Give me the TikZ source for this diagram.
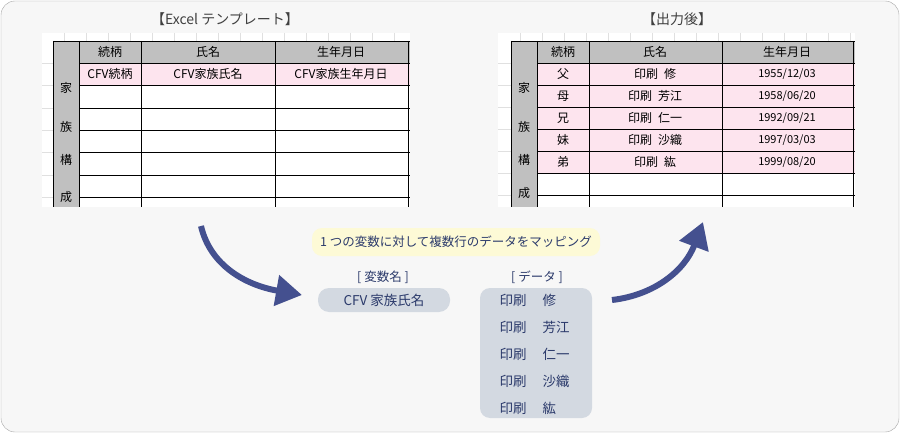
\documentclass[tikz,border=0pt]{standalone}
\usepackage{fontspec}
\setmainfont{Noto Sans CJK JP}
\usetikzlibrary{arrows.meta}
\definecolor{navy}{HTML}{2B3A6B}
\definecolor{arr}{HTML}{44508F}
\definecolor{hdr}{HTML}{C0C0C0}
\definecolor{pinkc}{HTML}{FDE4EE}
\definecolor{pill}{HTML}{D3D9E1}
\definecolor{note}{HTML}{FDFAD6}
\begin{document}
\begin{tikzpicture}[x=1pt,y=-1pt,
  cell/.style={font=\fontsize{12}{13}\selectfont},
  lbl/.style={font=\fontsize{12.5}{13}\selectfont, text=navy},
  bigarrow/.style={draw=arr, line width=6pt, -{Triangle[width=30pt,length=26pt]}}]
\useasboundingbox (0,0) rectangle (900,433);
\draw[draw=gray!70, fill=black!3, rounded corners=14pt] (1,1) rectangle (899,432);
% titles
\node[font=\fontsize{14}{15}\selectfont, text=black!75] (t1) at (225,19) {【Excel テンプレート】};
\node[font=\fontsize{14}{15}\selectfont, text=black!75] (t2) at (677,19) {【出力後】};
% left table
\fill[white] (42,33) rectangle (410,207);
\foreach \x in {64,86,108,130,152,174,196,218,240,262,284,306,328,350,372,394} \draw[black!12] (\x,33) -- (\x,41);
\foreach \y in {63,85,108,130,152,175,197} \draw[black!12] (42,\y) -- (53,\y);
\fill[hdr] (53,41) rectangle (79,207);
\fill[hdr] (79,41) rectangle (410,63);
\fill[pinkc] (79,63) rectangle (410,85);
\foreach \y in {41,63,85,108,130,152,175,197} \draw[black] (79,\y) -- (410,\y);
\draw (53,41) -- (79,41);
\foreach \x in {53,79,141,275,408} \draw[black] (\x,41) -- (\x,207);
\node[cell] (lh1) at (110,52) {続柄};
\node[cell] (lh2) at (208,52) {氏名};
\node[cell] (lh3) at (341,52) {生年月日};
\node[cell] (lv1) at (110,74) {CFV続柄};
\node[cell] (lv2) at (208,74) {CFV家族氏名};
\node[cell] (lv3) at (341,74) {CFV家族生年月日};
\node[cell] (ls1) at (66,88) {家};
\node[cell] (ls2) at (66,127) {族};
\node[cell] (ls3) at (66,160) {構};
\node[cell] (ls4) at (66,197) {成};
% right table
\fill[white] (498,33) rectangle (855,207);
\foreach \x in {520,542,564,586,608,630,652,674,696,718,740,762,784,806,828,850} \draw[black!12] (\x,33) -- (\x,41);
\foreach \y in {63,85,107,129,151,173,195} \draw[black!12] (498,\y) -- (511,\y);
\fill[hdr] (511,41) rectangle (537,207);
\fill[hdr] (537,41) rectangle (855,63);
\fill[pinkc] (537,63) rectangle (855,173);
\foreach \y in {41,63,85,107,129,151,173,195} \draw[black] (537,\y) -- (855,\y);
\draw (511,41) -- (537,41);
\foreach \x in {511,537,589,722,853} \draw[black] (\x,41) -- (\x,207);
\node[cell] (rh1) at (563,52) {続柄};
\node[cell] (rh2) at (655,52) {氏名};
\node[cell] (rh3) at (787,52) {生年月日};
\foreach \i/\r/\n/\d in {1/父/修/{1955/12/03},2/母/芳江/{1958/06/20},3/兄/仁一/{1992/09/21},4/妹/沙織/{1997/03/03},5/弟/紘/{1999/08/20}}{
  \node[cell] (rr\i) at (563,{52+22*\i}) {\r};
  \node[cell] (rn\i) at (655,{52+22*\i}) {印刷\hspace{0.5em}\n};
  \node[cell, font=\fontsize{11}{12}\selectfont] (rd\i) at (787,{52+22*\i}) {\d};
}
\node[cell] (rs1) at (524,88) {家};
\node[cell] (rs2) at (524,127) {族};
\node[cell] (rs3) at (524,160) {構};
\node[cell] (rs4) at (524,193) {成};
% note
\node[fill=note, rounded corners=10pt, minimum width=288pt, minimum height=28pt, lbl] (note) at (456,242) {1 つの変数に対して複数行のデータをマッピング};
\node[lbl] (vh) at (383,277) {[ 変数名 ]};
\node[fill=pill, rounded corners=11pt, minimum width=132pt, minimum height=24pt, lbl, font=\fontsize{13.5}{14}\selectfont] (var) at (384,300) {CFV 家族氏名};
\node[lbl] (dh) at (537,277) {[ データ ]};
\node[fill=pill, rounded corners=10pt, minimum width=112pt, minimum height=130pt] (data) at (536,353) {};
\foreach \i/\n in {0/修,1/芳江,2/仁一,3/沙織,4/紘}{
  \node[lbl, font=\fontsize{13.5}{14}\selectfont, anchor=west] (d\i) at (496,{300+27*\i}) {印刷\hspace{1.2em}\n};
}
% arrows
\coordinate (a1s) at (201,226);
\coordinate (a1e) at (302,295);
\draw[bigarrow] (a1s) .. controls (210,265) and (245,285) .. (a1e);
\coordinate (a2s) at (612,300);
\coordinate (a2e) at (703,222);
\draw[bigarrow] (a2s) .. controls (655,295) and (685,270) .. (a2e);
\end{tikzpicture}
\end{document}
